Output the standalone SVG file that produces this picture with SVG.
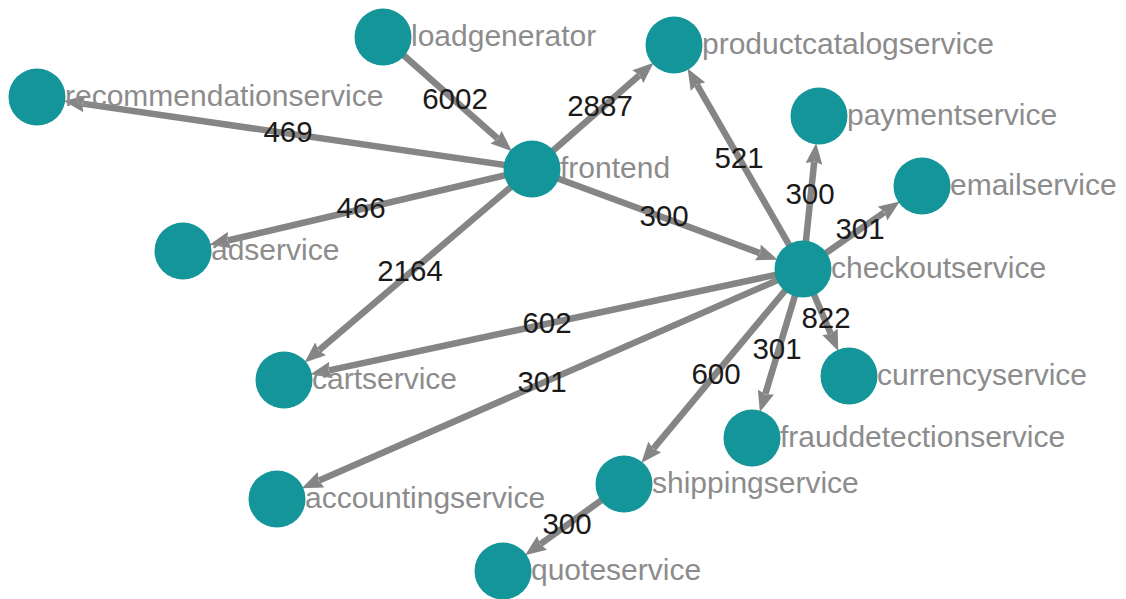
<svg xmlns="http://www.w3.org/2000/svg" width="1126" height="599" viewBox="0 0 1126 599">
<style>
.e{stroke:#858585;stroke-width:6.5;fill:none;marker-end:url(#ah)}
.n{fill:#13959a}
.t{font-family:"Liberation Sans",Arial,sans-serif;font-size:30px;fill:#8c8c8c}
.w{font-family:"Liberation Sans",Arial,sans-serif;font-size:29.5px;fill:#1a1a1a;text-anchor:middle}
</style>
<defs>
<marker id="ah" viewBox="0 0 10 8" markerWidth="21" markerHeight="17" markerUnits="userSpaceOnUse" refX="1" refY="4" orient="auto"><path d="M0,0 L10,4 L0,8 L1.2,4 z" fill="#858585"/></marker>
</defs>
<rect width="1126" height="599" fill="#fff"/>
<g id="connectors">
<line class="e" x1="383" y1="37" x2="497.6" y2="138.5"/>
<line class="e" x1="532" y1="169" x2="639.4" y2="75.3"/>
<line class="e" x1="532" y1="169" x2="82.5" y2="103.6"/>
<line class="e" x1="532" y1="169" x2="227.8" y2="240.5"/>
<line class="e" x1="532" y1="169" x2="319.0" y2="350.2"/>
<line class="e" x1="532" y1="169" x2="759.8" y2="253.1"/>
<line class="e" x1="803" y1="269" x2="697.0" y2="84.9"/>
<line class="e" x1="803" y1="269" x2="814.2" y2="161.8"/>
<line class="e" x1="803" y1="269" x2="884.3" y2="212.3"/>
<line class="e" x1="803" y1="269" x2="329.0" y2="370.4"/>
<line class="e" x1="803" y1="269" x2="319.1" y2="480.6"/>
<line class="e" x1="803" y1="269" x2="653.4" y2="448.6"/>
<line class="e" x1="803" y1="269" x2="765.3" y2="394.0"/>
<line class="e" x1="803" y1="269" x2="830.8" y2="333.7"/>
<line class="e" x1="624" y1="484" x2="540.4" y2="544.1"/>
<g id="edge-labels">
<text class="w" x="455" y="109">6002</text>
<text class="w" x="600" y="116">2887</text>
<text class="w" x="288" y="142">469</text>
<text class="w" x="361" y="218">466</text>
<text class="w" x="410" y="281">2164</text>
<text class="w" x="664" y="226">300</text>
<text class="w" x="739" y="168">521</text>
<text class="w" x="810" y="204">300</text>
<text class="w" x="860" y="239">301</text>
<text class="w" x="547" y="333">602</text>
<text class="w" x="542" y="392">301</text>
<text class="w" x="716" y="384">600</text>
<text class="w" x="777" y="359">301</text>
<text class="w" x="826" y="328">822</text>
<text class="w" x="567" y="534">300</text>
</g>
</g>
<g id="loadgenerator"><circle class="n" cx="383" cy="37" r="28.5"/><text class="t" x="411" y="46">loadgenerator</text></g>
<g id="productcatalogservice"><circle class="n" cx="674" cy="45" r="28.5"/><text class="t" x="702" y="54">productcatalogservice</text></g>
<g id="recommendationservice"><circle class="n" cx="37" cy="97" r="28.5"/><text class="t" x="65" y="106">recommendationservice</text></g>
<g id="frontend"><circle class="n" cx="532" cy="169" r="28.5"/><text class="t" x="560" y="178">frontend</text></g>
<g id="paymentservice"><circle class="n" cx="819" cy="116" r="28.5"/><text class="t" x="847" y="125">paymentservice</text></g>
<g id="emailservice"><circle class="n" cx="922" cy="186" r="28.5"/><text class="t" x="950" y="195">emailservice</text></g>
<g id="adservice"><circle class="n" cx="183" cy="251" r="28.5"/><text class="t" x="211" y="260">adservice</text></g>
<g id="checkoutservice"><circle class="n" cx="803" cy="269" r="28.5"/><text class="t" x="831" y="278">checkoutservice</text></g>
<g id="cartservice"><circle class="n" cx="284" cy="380" r="28.5"/><text class="t" x="312" y="389">cartservice</text></g>
<g id="currencyservice"><circle class="n" cx="849" cy="376" r="28.5"/><text class="t" x="877" y="385">currencyservice</text></g>
<g id="frauddetectionservice"><circle class="n" cx="752" cy="438" r="28.5"/><text class="t" x="780" y="447">frauddetectionservice</text></g>
<g id="accountingservice"><circle class="n" cx="277" cy="499" r="28.5"/><text class="t" x="305" y="508">accountingservice</text></g>
<g id="shippingservice"><circle class="n" cx="624" cy="484" r="28.5"/><text class="t" x="652" y="493">shippingservice</text></g>
<g id="quoteservice"><circle class="n" cx="503" cy="571" r="28.5"/><text class="t" x="531" y="580">quoteservice</text></g>
</svg>
